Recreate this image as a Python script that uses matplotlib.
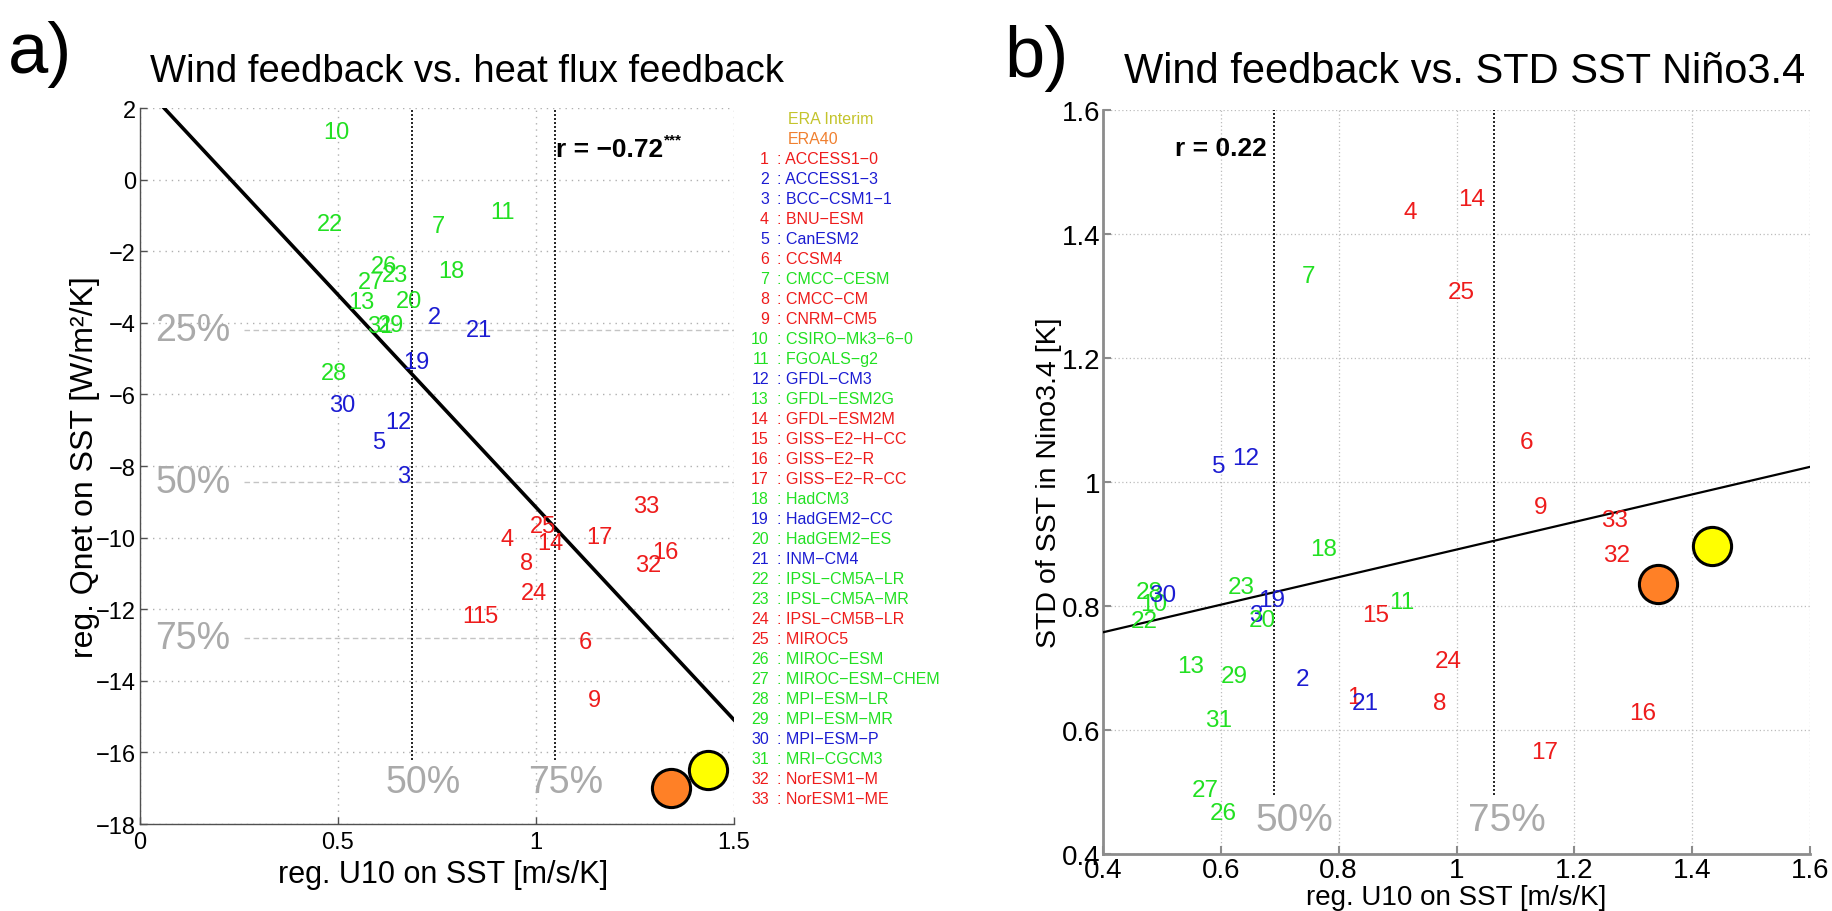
import numpy as np
import matplotlib
matplotlib.use('Agg')
import matplotlib.pyplot as plt
from matplotlib.ticker import FixedLocator, FuncFormatter

plt.rcParams['font.family'] = ['Liberation Sans', 'DejaVu Sans']

# ---------------- data ----------------
model_ids = list(range(1, 34))
model_names = ['ACCESS1-0', 'ACCESS1-3', 'BCC-CSM1-1', 'BNU-ESM', 'CanESM2', 'CCSM4',
               'CMCC-CESM', 'CMCC-CM', 'CNRM-CM5', 'CSIRO-Mk3-6-0', 'FGOALS-g2',
               'GFDL-CM3', 'GFDL-ESM2G', 'GFDL-ESM2M', 'GISS-E2-H-CC', 'GISS-E2-R',
               'GISS-E2-R-CC', 'HadCM3', 'HadGEM2-CC', 'HadGEM2-ES', 'INM-CM4',
               'IPSL-CM5A-LR', 'IPSL-CM5A-MR', 'IPSL-CM5B-LR', 'MIROC5', 'MIROC-ESM',
               'MIROC-ESM-CHEM', 'MPI-ESM-LR', 'MPI-ESM-MR', 'MPI-ESM-P', 'MRI-CGCM3',
               'NorESM1-M', 'NorESM1-ME']
model_group = ['r', 'b', 'b', 'r', 'b', 'r', 'g', 'r', 'r', 'g', 'g', 'b', 'g', 'r', 'r',
               'r', 'r', 'g', 'b', 'g', 'b', 'g', 'g', 'r', 'r', 'g', 'g', 'g', 'g', 'b',
               'g', 'r', 'r']

u10_reg = [0.815, 0.728, 0.648, 0.910, 0.585, 1.108, 0.737, 0.960, 1.131, 0.463, 0.885,
           0.620, 0.525, 1.003, 0.840, 1.293, 1.126, 0.752, 0.664, 0.647, 0.823, 0.447,
           0.612, 0.963, 0.985, 0.582, 0.550, 0.456, 0.600, 0.478, 0.573, 1.249, 1.245]
qnet_reg = [-12.18, -3.85, -8.27, -10.04, -7.32, -12.91, -1.30, -10.72, -14.55, 1.32, -0.91,
            -6.78, -3.43, -10.15, -12.20, -10.39, -9.99, -2.54, -5.10, -3.38, -4.19, -1.24,
            -2.66, -11.55, -9.67, -2.40, -2.85, -5.40, -4.06, -6.30, -4.08, -10.76, -9.13]
std_sst = [0.654, 0.683, 0.785, 1.435, 1.026, 1.064, 1.333, 0.643, 0.960, 0.803, 0.807,
           1.039, 0.703, 1.456, 0.785, 0.628, 0.564, 0.892, 0.810, 0.777, 0.643, 0.775,
           0.831, 0.711, 1.307, 0.466, 0.503, 0.823, 0.687, 0.817, 0.616, 0.883, 0.939]

obs_names = ['ERA Interim', 'ERA40']
obs_u10 = [1.434, 1.342]
obs_qnet = [-16.49, -17.00]
obs_std = [0.896, 0.836]

a_x_pct = [0.686, 1.047]
a_y_pct = [-4.19, -8.44, -12.81]
b_x_pct = [0.690, 1.064]
pct_labels_x = ['50%', '75%']
pct_labels_y = ['25%', '50%', '75%']

r_a_text = 'r = \u22120.72'
r_a_sig = '***'
r_b_text = 'r = 0.22'

xticks_a = [0, 0.5, 1, 1.5]
yticks_a = list(range(-18, 3, 2))
ticks_b = [0.4, 0.6, 0.8, 1.0, 1.2, 1.4, 1.6]

# ---------------- style ----------------
group_colors = {'r': '#ee1c1c', 'g': '#22e022', 'b': '#1c1cd2'}
obs_face = ['#ffff00', '#ff8026']
obs_text_colors = ['#c4c42c', '#f08030']
pct_grey = '#aaaaaa'

W, H = 1833, 912
fig = plt.figure(figsize=(W / 100, H / 100), dpi=100)


def fx(px):
    return px / W


def fy(py):
    return 1 - py / H


def fmt(v, pos):
    s = '%g' % v
    return s.replace('-', '\u2212')


ax_a = fig.add_axes([fx(140), fy(825), (734 - 140) / W, (825 - 109) / H])
ax_b = fig.add_axes([fx(1103), fy(855), (1810 - 1103) / W, (855 - 111) / H])

# ---------------- panel a ----------------
ax = ax_a
ax.set_xlim(0, 1.5)
ax.set_ylim(-18, 2)
ax.xaxis.set_major_locator(FixedLocator(xticks_a))
ax.yaxis.set_major_locator(FixedLocator(yticks_a))
ax.xaxis.set_major_formatter(FuncFormatter(fmt))
ax.yaxis.set_major_formatter(FuncFormatter(fmt))
ax.grid(True, color='#b0b0b0', ls=(0, (1, 3.5)), lw=1.0)
ax.set_axisbelow(True)
for s in ['top', 'right']:
    ax.spines[s].set_visible(False)
for s in ['left', 'bottom']:
    ax.spines[s].set_color('#505050')
    ax.spines[s].set_linewidth(1.0)
ax.tick_params(direction='in', length=5, width=1, color='#505050', labelsize=17)
ax.tick_params(axis='x', pad=5)
ax.tick_params(axis='y', pad=3)

for yp in a_y_pct:
    ax.axhline(yp, xmin=0.262 / 1.5, xmax=1, color='#c4c4c4', ls=(0, (4, 2.5)), lw=1.0, zorder=1)
for lab, yp in zip(pct_labels_y, a_y_pct):
    ax.text(0.038, yp, lab, color=pct_grey, fontsize=27, ha='left', va='center')
for lab, xp in zip(pct_labels_x, a_x_pct):
    ax.axvline(xp, ymin=(-16.2 + 18) / 20, ymax=1, color='k', ls=(0, (1.2, 1.2)), lw=1.2, zorder=2)
    ax.text(xp - 0.067, -16.84, lab, color=pct_grey, fontsize=27, ha='left', va='center')

coef_a = np.polyfit(u10_reg, qnet_reg, 1)
xl = np.array([0, 1.5])
ax.plot(xl, np.polyval(coef_a, xl), color='k', lw=2.6, zorder=3)

for i, x, y, g in zip(model_ids, u10_reg, qnet_reg, model_group):
    ax.text(x, y, str(i), color=group_colors[g], fontsize=17, ha='left', va='center', zorder=4)

for k in [1, 0]:
    ax.plot(obs_u10[k], obs_qnet[k], 'o', ms=27.5, mfc=obs_face[k], mec='k', mew=2.2,
            zorder=5, clip_on=False)

t = ax.text(1.05, 0.855, r_a_text, fontsize=19, fontweight='bold', ha='left', va='center')
ax.annotate(r_a_sig, xy=(1, 1), xycoords=t, xytext=(1, 3), textcoords='offset points',
            fontsize=11, fontweight='bold', ha='left', va='top')

ax.set_xlabel('reg. U10 on SST [m/s/K]', fontsize=22, va='center')
ax.xaxis.set_label_coords(0.510, -0.0698)
ax.set_ylabel('reg. Qnet on SST [W/m\u00b2/K]', fontsize=23, va='center')
ax.yaxis.set_label_coords(-0.093, 0.5)

# legend list
row0 = 159.3
dy = 20.0
for k, (nm, c) in enumerate(zip(obs_names, obs_text_colors)):
    fig.text(fx(788), fy(row0 - dy * (2 - k)), nm, color=c, fontsize=11.5, ha='left', va='center')
for j, (i, nm, g) in enumerate(zip(model_ids, model_names, model_group)):
    yy = fy(row0 + dy * j)
    fig.text(fx(769), yy, str(i), color=group_colors[g], fontsize=11.5, ha='right', va='center')
    fig.text(fx(777), yy, ': ' + nm.replace('-', '\u2212'), color=group_colors[g],
             fontsize=11.5, ha='left', va='center')

# ---------------- panel b ----------------
ax = ax_b
ax.set_xlim(0.4, 1.6)
ax.set_ylim(0.4, 1.6)
ax.xaxis.set_major_locator(FixedLocator(ticks_b))
ax.yaxis.set_major_locator(FixedLocator(ticks_b))
ax.xaxis.set_major_formatter(FuncFormatter(fmt))
ax.yaxis.set_major_formatter(FuncFormatter(fmt))
ax.grid(True, color='#bcbcbc', ls=(0, (1, 2)), lw=0.9)
ax.set_axisbelow(True)
for s in ['top', 'right']:
    ax.spines[s].set_visible(False)
for s in ['left', 'bottom']:
    ax.spines[s].set_color('#8c8c8c')
    ax.spines[s].set_linewidth(2.0)
ax.tick_params(direction='in', length=6, width=1.5, color='#8c8c8c', labelsize=20)
ax.tick_params(axis='x', pad=2)
ax.tick_params(axis='y', pad=2)

b_pct_text_x = [0.658, 1.020]
for lab, xp, xt in zip(pct_labels_x, b_x_pct, b_pct_text_x):
    ax.axvline(xp, ymin=(0.495 - 0.4) / 1.2, ymax=1, color='k', ls=(0, (1.2, 1.2)), lw=1.2, zorder=2)
    ax.text(xt, 0.455, lab, color=pct_grey, fontsize=28, ha='left', va='center')

coef_b = np.polyfit(u10_reg, std_sst, 1)
xl = np.array([0.4, 1.6])
ax.plot(xl, np.polyval(coef_b, xl), color='k', lw=1.6, zorder=3)

for i, x, y, g in zip(model_ids, u10_reg, std_sst, model_group):
    ax.text(x, y, str(i), color=group_colors[g], fontsize=17.5, ha='left', va='center', zorder=4)

for k in [1, 0]:
    ax.plot(obs_u10[k], obs_std[k], 'o', ms=27.5, mfc=obs_face[k], mec='k', mew=2.2, zorder=5)

ax.text(0.522, 1.538, r_b_text, fontsize=19, fontweight='bold', ha='left', va='center')

ax.set_xlabel('reg. U10 on SST [m/s/K]', fontsize=20, va='center')
ax.xaxis.set_label_coords(0.499, -0.0578)
ax.set_ylabel('STD of SST in Nino3.4 [K]', fontsize=20.5, va='center')
ax.yaxis.set_label_coords(-0.076, 0.5)

# ---------------- titles / panel letters ----------------
fig.text(fx(467), fy(72), 'Wind feedback vs. heat flux feedback', fontsize=27.5, ha='center', va='center')
fig.text(fx(1465), fy(72), 'Wind feedback vs. STD SST Ni\u00f1o3.4', fontsize=30, ha='center', va='center')
fig.text(fx(8), fy(55), 'a)', fontsize=52, ha='left', va='center')
fig.text(fx(1004), fy(58), 'b)', fontsize=52, ha='left', va='center')

fig.savefig('out.png', dpi=100)
